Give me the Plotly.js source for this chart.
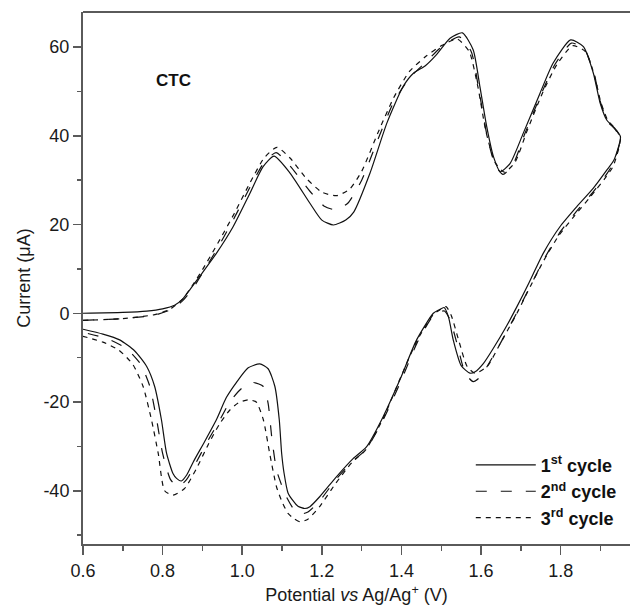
<!DOCTYPE html>
<html>
<head>
<meta charset="utf-8">
<script src="https://cdn.plot.ly/plotly-3.0.1.min.js"></script>
<style>html,body{margin:0;padding:0;background:#fff;}#chart{width:630px;height:606px;}</style>
</head>
<body>
<div id="chart"></div>
<script>
// Cycle 1 (solid): forward then reverse scan
const cycle1_potential = [
  0.600,0.700,0.760,0.800,0.830,0.850,0.870,0.893,0.935,0.977,1.019,1.052,1.080,1.120,1.170,1.200,1.229,1.260,1.280,1.321,1.363,1.404,1.430,1.460,1.488,1.522,1.553,1.580,1.597,1.614,1.631,1.648,1.673,1.706,1.748,1.781,1.825,1.857,1.882,1.899,1.916,1.935,1.950,
  1.934,1.916,1.882,1.840,1.798,1.756,1.720,1.690,1.660,1.630,1.606,1.585,1.572,1.550,1.530,1.518,1.507,1.495,1.480,1.438,1.396,1.354,1.312,1.279,1.237,1.195,1.170,1.157,1.140,1.128,1.115,1.105,1.099,1.093,1.082,1.065,1.044,1.015,0.986,0.960,0.935,0.905,0.877,0.860,0.847,0.835,0.826,0.810,0.797,0.780,0.760,0.730,0.692,0.650,0.600];
const cycle1_current = [
  0.0,0.2,0.5,1.0,1.8,3.2,5.5,8.3,13.5,19.5,27.0,33.0,35.4,31.6,24.8,21.0,19.9,21.0,22.8,31.6,42.8,51.1,54.1,55.8,58.3,62.0,63.2,59.4,51.1,42.1,35.3,31.9,33.8,40.6,49.6,56.4,61.6,60.1,54.1,47.4,43.5,41.8,39.8,
  34.6,32.3,28.2,24.0,19.5,13.5,6.8,1.5,-3.5,-8.0,-11.3,-13.2,-13.5,-11.8,-6.0,-0.8,1.3,0.8,0.0,-6.0,-15.0,-23.3,-30.1,-32.7,-36.8,-41.3,-43.6,-44.0,-43.5,-42.3,-40.5,-36.0,-31.6,-24.0,-16.5,-12.5,-11.4,-12.3,-15.5,-19.0,-24.0,-29.0,-33.5,-36.5,-37.8,-37.2,-36.1,-31.6,-24.0,-16.5,-12.0,-8.5,-6.0,-4.7,-3.6];

// Cycle 2 (dashed)
const cycle2_potential = [
  0.600,0.700,0.780,0.820,0.850,0.875,0.900,0.940,0.980,1.020,1.055,1.085,1.120,1.170,1.205,1.235,1.265,1.300,1.340,1.380,1.420,1.460,1.500,1.545,1.575,1.595,1.615,1.635,1.655,1.680,1.710,1.750,1.785,1.827,1.860,1.885,1.900,1.918,1.935,1.950,
  1.932,1.914,1.880,1.840,1.800,1.760,1.720,1.690,1.650,1.615,1.595,1.580,1.560,1.540,1.522,1.508,1.495,1.480,1.440,1.400,1.355,1.310,1.275,1.235,1.195,1.165,1.149,1.130,1.111,1.098,1.086,1.074,1.065,1.053,1.027,1.000,0.970,0.944,0.915,0.885,0.860,0.839,0.820,0.800,0.785,0.768,0.745,0.710,0.660,0.600];
const cycle2_current = [
  -1.6,-1.2,-0.4,0.8,2.8,5.5,9.0,15.0,21.5,28.5,34.0,36.2,33.2,27.5,24.2,23.3,24.8,30.0,39.0,47.5,53.0,56.5,60.0,62.3,59.0,50.0,40.0,33.5,31.3,33.5,40.5,49.2,56.0,60.9,59.5,53.5,47.5,43.2,41.6,39.5,
  33.8,31.2,27.2,23.0,18.5,12.5,5.5,0.2,-6.5,-12.0,-14.6,-15.4,-13.5,-7.0,-1.5,0.5,0.3,-0.5,-6.5,-15.0,-23.8,-30.8,-33.5,-37.5,-42.2,-44.8,-45.2,-44.2,-41.4,-38.5,-35.3,-27.8,-20.3,-16.5,-15.6,-16.8,-19.8,-24.0,-28.5,-33.5,-37.5,-39.1,-37.5,-31.6,-24.0,-16.5,-11.5,-8.0,-5.7,-4.3];

// Cycle 3 (short dash)
const cycle3_potential = [
  0.600,0.700,0.780,0.820,0.850,0.875,0.900,0.940,0.980,1.020,1.055,1.087,1.120,1.160,1.200,1.237,1.270,1.300,1.340,1.380,1.420,1.460,1.500,1.540,1.570,1.592,1.612,1.635,1.658,1.685,1.715,1.755,1.790,1.830,1.862,1.885,1.900,1.918,1.935,1.950,
  1.932,1.912,1.875,1.835,1.795,1.755,1.715,1.690,1.650,1.615,1.585,1.565,1.545,1.525,1.512,1.500,1.480,1.440,1.400,1.355,1.310,1.275,1.235,1.195,1.165,1.145,1.130,1.115,1.100,1.086,1.069,1.053,1.035,1.015,0.990,0.969,0.944,0.915,0.885,0.855,0.826,0.805,0.789,0.772,0.751,0.725,0.690,0.650,0.600];
const cycle3_current = [
  -1.6,-1.2,-0.3,1.0,3.2,6.3,9.8,16.0,22.5,29.5,35.0,37.4,35.0,30.5,27.3,26.5,28.0,32.0,40.5,48.5,54.5,57.8,60.3,61.8,59.0,51.0,41.0,34.0,31.8,34.0,41.0,49.8,56.0,60.3,59.0,53.5,47.8,43.5,41.8,39.5,
  33.2,30.5,26.3,22.0,17.5,11.5,4.5,0.0,-6.5,-12.0,-13.5,-12.0,-6.5,-0.5,1.5,1.0,-0.3,-6.0,-14.0,-23.5,-30.8,-33.7,-38.3,-43.5,-46.4,-47.0,-46.3,-45.1,-42.5,-39.1,-31.6,-24.0,-20.0,-19.5,-20.2,-21.8,-24.8,-29.5,-35.0,-39.5,-41.0,-40.0,-31.6,-24.0,-16.5,-11.5,-8.3,-6.5,-5.2];

const seriesNames = ['<b>1<sup>st</sup> cycle</b>','<b>2<sup>nd</sup> cycle</b>','<b>3<sup>rd</sup> cycle</b>'];
const xTickVals = [0.6,0.8,1.0,1.2,1.4,1.6,1.8];
const xTickText = ['0.6','0.8','1.0','1.2','1.4','1.6','1.8'];
const yTickVals = [-40,-20,0,20,40,60];
const yTickText = ['-40','-20','0','20','40','60'];

const FONT = 'Liberation Sans, Arial, sans-serif';
const AX = '#5a5a5a';

const traces = [
  {x: cycle1_potential, y: cycle1_current, name: seriesNames[0], mode:'lines',
   line:{color:'#111', width:1.2, dash:'solid', shape:'spline', smoothing:0.6}},
  {x: cycle2_potential, y: cycle2_current, name: seriesNames[1], mode:'lines',
   line:{color:'#111', width:1.2, dash:'11px,14px', shape:'spline', smoothing:0.6}},
  {x: cycle3_potential, y: cycle3_current, name: seriesNames[2], mode:'lines',
   line:{color:'#111', width:1.2, dash:'5px,5px', shape:'spline', smoothing:0.6}}
];

const layout = {
  width:630, height:606,
  margin:{l:83, r:0, t:12, b:62},
  paper_bgcolor:'#fff', plot_bgcolor:'#fff',
  font:{family:FONT, size:18, color:'#1a1a1a'},
  showlegend:true,
  legend:{x:0.985, y:0.183, xanchor:'right', yanchor:'top', bgcolor:'rgba(0,0,0,0)',
          font:{family:FONT, size:18, color:'#111'}, itemwidth:60, tracegroupgap:0},
  xaxis:{range:[0.6,1.974], showgrid:false, zeroline:false, showline:true, linecolor:AX, linewidth:2,
         automargin:false,
         ticks:'outside', ticklen:9, tickwidth:1.5, tickcolor:AX,
         tickmode:'array', tickvals:xTickVals, ticktext:xTickText,
         minor:{tickmode:'linear', tick0:0.6, dtick:0.1, ticks:'outside', ticklen:5, tickwidth:1.5, tickcolor:AX},
         title:{text:'Potential <i>vs</i> Ag/Ag<sup>+</sup> (V)', font:{family:FONT, size:18, color:'#1a1a1a'}, standoff:9}},
  yaxis:{range:[-52,67.9], showgrid:false, zeroline:false, showline:true, linecolor:AX, linewidth:2,
         automargin:false,
         ticks:'outside', ticklen:8, tickwidth:1.5, tickcolor:AX,
         tickmode:'array', tickvals:yTickVals, ticktext:yTickText,
         minor:{tickmode:'linear', tick0:0, dtick:10, ticks:'outside', ticklen:4, tickwidth:1.5, tickcolor:AX},
         title:{text:'Current (μA)', font:{family:FONT, size:18, color:'#1a1a1a'}, standoff:8}},
  shapes:[{type:'line', xref:'paper', yref:'paper', x0:0, x1:1, y0:1, y1:1, line:{color:AX, width:2}}],
  annotations:[{x:0.828, y:52.4, xref:'x', yref:'y', text:'<b>CTC</b>', showarrow:false,
                font:{family:FONT, size:17, color:'#111'}}]
};

Plotly.newPlot('chart', traces, layout, {displayModeBar:false, staticPlot:true});
</script>
</body>
</html>
